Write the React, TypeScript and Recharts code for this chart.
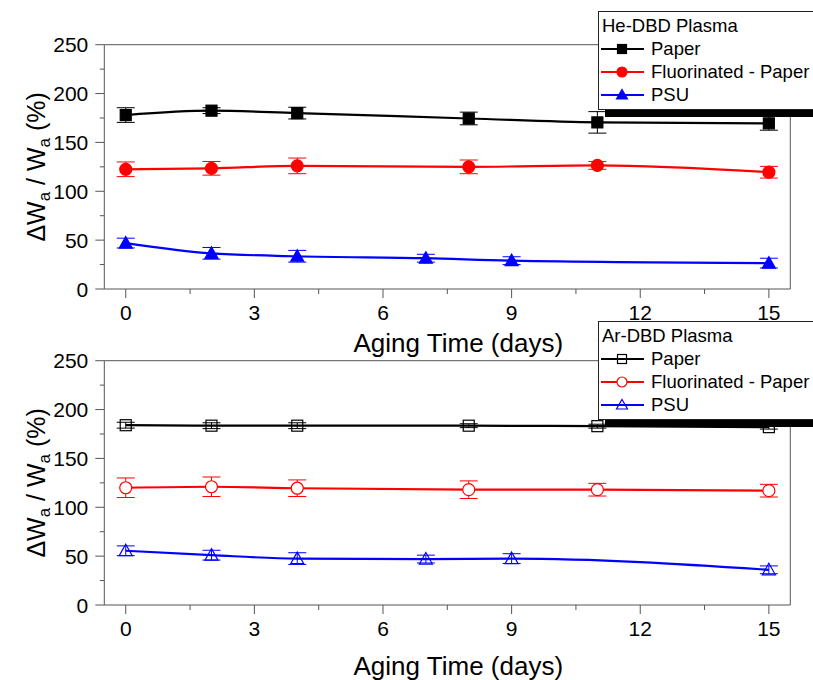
import React from "react";
import { LineChart, Line, XAxis, YAxis, ErrorBar, Legend, Label } from "recharts";

// sampling days (aging time) for each series
const daysPaper = [0, 2, 4, 8, 11, 15];
const daysPsu = [0, 2, 4, 7, 9, 15];

// He-DBD plasma treated samples
const hePaper = [178, 182.5, 180, 174.5, 170.5, 169.5];
const hePaperErr = [7.5, 3, 6, 6.5, 11, 7];
const heFluor = [122.5, 123.5, 126, 125, 126.5, 119.5];
const heFluorErr = [7.5, 7, 8, 7, 4, 6];
const hePsu = [47, 36.5, 33.5, 31.5, 29, 26.5];
const hePsuErr = [5, 6, 6, 4, 4, 5];

// Ar-DBD plasma treated samples
const arPaper = [184, 183.5, 183.5, 183.5, 183, 182];
const arPaperErr = [3, 3, 3, 2, 2, 2];
const arFluor = [120, 121, 119.5, 118, 118, 117];
const arFluorErr = [10, 10, 8.5, 9, 6.5, 6.5];
const arPsu = [55.5, 51, 47.5, 47, 47.5, 36];
const arPsuErr = [5, 5, 6, 4, 5, 4];

const seriesNames = ["Paper", "Fluorinated - Paper", "PSU"];
const seriesColors = ["#000000", "#ff0000", "#0000ff"];
const seriesShapes = ["square", "circle", "triangle"];

const xTicks = [0, 1.5, 3, 4.5, 6, 7.5, 9, 10.5, 12, 13.5, 15];
const xMajor = [0, 3, 6, 9, 12, 15];
const yTicks = [0, 25, 50, 75, 100, 125, 150, 175, 200, 225, 250];

const axisColor = "#555";

const toPoints = (xs: number[], ys: number[], errs: number[]) =>
  xs.map((d, i) => ({ day: d, value: ys[i], err: errs[i] }));

function Marker({ shape, cx, cy, color, open, size }: any) {
  const h = size / 2;
  if (shape === "square") {
    return (
      <rect x={cx - h} y={cy - h} width={size} height={size}
        fill={open ? "none" : color} stroke={color} strokeWidth={1.2} />
    );
  }
  if (shape === "circle") {
    return <circle cx={cx} cy={cy} r={h + 0.5} fill={open ? "#fff" : color} stroke={color} strokeWidth={1.2} />;
  }
  const pts = `${cx},${cy - h - 1} ${cx + h + 1},${cy + h - 0.5} ${cx - h - 1},${cy + h - 0.5}`;
  return <polygon points={pts} fill={open ? "none" : color} stroke={color} strokeWidth={1.2} />;
}

// ticks: major with labels, minor short
const BottomTick = ({ x, y, payload }: any) => {
  const major = xMajor.includes(payload.value);
  return (
    <g>
      <line x1={x} x2={x} y1={y} y2={y + (major ? 9 : 5)} stroke={axisColor} />
      {major && (
        <text x={x} y={y + 31} textAnchor="middle" fontSize={21} fill="#000">{payload.value}</text>
      )}
    </g>
  );
};

const TopTick = ({ x, y, payload }: any) => {
  const major = xMajor.includes(payload.value);
  return <line x1={x} x2={x} y1={y} y2={y + (major ? 9 : 5)} stroke={axisColor} />;
};

const LeftTick = ({ x, y, payload }: any) => {
  const major = payload.value % 50 === 0;
  return (
    <g>
      <line x1={x} x2={x - (major ? 9 : 4.5)} y1={y} y2={y} stroke={axisColor} />
      {major && (
        <text x={x - 16} y={y} dy="0.36em" textAnchor="end" fontSize={21} fill="#000">{payload.value}</text>
      )}
    </g>
  );
};

const RightTick = ({ x, y, payload }: any) => {
  const major = payload.value % 50 === 0;
  return <line x1={x} x2={x - (major ? 9 : 4.5)} y1={y} y2={y} stroke={axisColor} />;
};

function makeLegend(title: string, open: boolean) {
  return () => (
    <div style={{
      width: 230, background: "#fff", border: "1px solid #222",
      boxShadow: "7px 7px 0 0 #000", padding: "2px 0 2px 1px",
      fontSize: 18.5, color: "#000", textAlign: "left",
    }}>
      <div style={{ height: 24, lineHeight: "24px", paddingLeft: 2 }}>{title}</div>
      {seriesNames.map((name, i) => (
        <div key={name} style={{ display: "flex", alignItems: "center", height: 23 }}>
          <svg width={46} height={18}>
            <line x1={1} x2={44} y1={9} y2={9} stroke={seriesColors[i]} strokeWidth={2} />
            <Marker shape={seriesShapes[i]} cx={22} cy={9} size={9} color={seriesColors[i]} open={open} />
          </svg>
          <span style={{ marginLeft: 5 }}>{name}</span>
        </div>
      ))}
    </div>
  );
}

const YTitle = ({ viewBox }: any) => {
  const cx = 45;
  const cy = viewBox.y + viewBox.height / 2;
  return (
    <text x={cx} y={cy} transform={`rotate(-90 ${cx} ${cy})`} textAnchor="middle" fontSize={25} fill="#000">
      <tspan>ΔW</tspan>
      <tspan fontSize={17} dy={5}>a</tspan>
      <tspan dy={-5}> / W</tspan>
      <tspan fontSize={17} dy={5}>a</tspan>
      <tspan dy={-5}> (%)</tspan>
    </text>
  );
};

function Panel({ title, open, legendTop, titleDy, paper, paperErr, fluor, fluorErr, psu, psuErr }: any) {
  const sets = [
    toPoints(daysPaper, paper, paperErr),
    toPoints(daysPaper, fluor, fluorErr),
    toPoints(daysPsu, psu, psuErr),
  ];
  return (
    <LineChart width={813} height={365} margin={{ top: 43.7, right: 21.7, left: 44.3, bottom: 16 }}>
      <XAxis xAxisId="b" dataKey="day" type="number" domain={[-0.5, 15.5]} ticks={xTicks} interval={0}
        tickSize={0} tickMargin={0} tickLine={false} tick={<BottomTick />} height={60}
        axisLine={{ stroke: axisColor }}>
        <Label content={({ viewBox }: any) => (
          <text x={viewBox.x + viewBox.width / 2 + 11} y={viewBox.y + titleDy} textAnchor="middle" fontSize={26} fill="#000">
            Aging Time (days)
          </text>
        )} />
      </XAxis>
      <XAxis xAxisId="t" orientation="top" dataKey="day" type="number" domain={[-0.5, 15.5]} ticks={xTicks}
        interval={0} tickSize={0} tickMargin={0} tickLine={false} tick={<TopTick />} height={1}
        axisLine={{ stroke: axisColor }} />
      <YAxis yAxisId="l" type="number" domain={[0, 250]} ticks={yTicks} interval={0} width={60}
        tickSize={0} tickMargin={0} tickLine={false} tick={<LeftTick />} axisLine={{ stroke: axisColor }}>
        <Label content={<YTitle />} />
      </YAxis>
      <YAxis yAxisId="r" orientation="right" type="number" domain={[0, 250]} ticks={yTicks} interval={0} width={1}
        tickSize={0} tickMargin={0} tickLine={false} tick={<RightTick />} axisLine={{ stroke: axisColor }} />
      {sets.map((data, i) => (
        <Line key={seriesNames[i]} xAxisId="b" yAxisId="l" data={data} dataKey="value" name={seriesNames[i]}
          type="monotone" stroke={seriesColors[i]} strokeWidth={2.2} isAnimationActive={false}
          dot={(p: any) => (
            <Marker key={`${i}-${p.index}`} shape={seriesShapes[i]} cx={p.cx} cy={p.cy} size={11}
              color={seriesColors[i]} open={open} />
          )}
          activeDot={false}>
          <ErrorBar dataKey="err" width={9} stroke={seriesColors[i]} strokeWidth={1} direction="y" />
        </Line>
      ))}
      <Legend layout="vertical" align="center" verticalAlign="middle" content={makeLegend(title, open)}
        wrapperStyle={{ left: 598, top: legendTop, width: 240 }} />
    </LineChart>
  );
}

export default function App() {
  return (
    <div style={{
      position: "absolute", left: 0, top: 0, width: 813, height: 680, overflow: "hidden",
      background: "#fff", fontFamily: "'Liberation Sans', Arial, sans-serif",
    }}>
      <div style={{ position: "absolute", left: 0, top: 0 }}>
        <Panel title="He-DBD Plasma" open={false} legendTop={10.7} titleDy={62.7}
          paper={hePaper} paperErr={hePaperErr} fluor={heFluor} fluorErr={heFluorErr} psu={hePsu} psuErr={hePsuErr} />
      </div>
      <div style={{ position: "absolute", left: 0, top: 316 }}>
        <Panel title="Ar-DBD Plasma" open={true} legendTop={4.7} titleDy={70}
          paper={arPaper} paperErr={arPaperErr} fluor={arFluor} fluorErr={arFluorErr} psu={arPsu} psuErr={arPsuErr} />
      </div>
    </div>
  );
}
